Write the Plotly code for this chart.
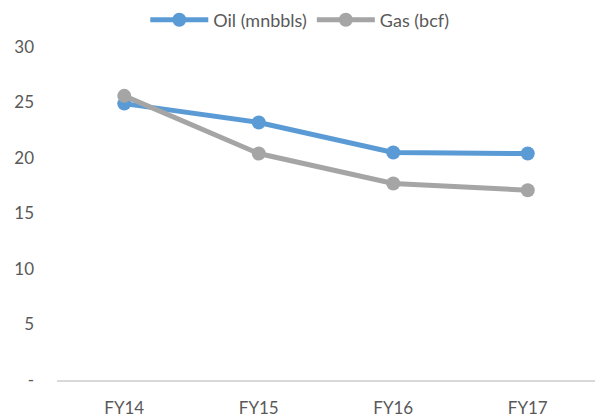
import plotly.graph_objects as go

years = ['FY14', 'FY15', 'FY16', 'FY17']
oil = [24.9, 23.2, 20.5, 20.4]
gas = [25.6, 20.4, 17.7, 17.1]
y_ticks = [0, 5, 10, 15, 20, 25, 30]
y_labels = ['-', '5', '10', '15', '20', '25', '30']

OIL_COLOR = '#5B9BD5'
GAS_COLOR = '#A5A5A5'
TEXT = '#595959'

fig = go.Figure()

fig.add_trace(go.Scatter(
    x=years, y=oil, name='Oil (mnbbls)',
    mode='lines+markers',
    line=dict(color=OIL_COLOR, width=5),
    marker=dict(size=14, color=OIL_COLOR)
))
fig.add_trace(go.Scatter(
    x=years, y=gas, name='Gas (bcf)',
    mode='lines+markers',
    line=dict(color=GAS_COLOR, width=5),
    marker=dict(size=14, color=GAS_COLOR)
))

fig.update_layout(
    width=596,
    height=417,
    plot_bgcolor='white',
    paper_bgcolor='white',
    margin=dict(l=57, r=1, t=47, b=37, autoexpand=False),
    font=dict(family='Lato, Open Sans, sans-serif', size=17, color=TEXT),
    showlegend=True,
    legend=dict(
        orientation='h',
        x=0.503, xanchor='center', xref='container',
        y=0.952, yanchor='middle', yref='container',
        font=dict(size=18, color=TEXT),
        itemwidth=58,
    ),
    xaxis=dict(
        range=[-0.5, 3.5],
        showgrid=False,
        showline=True,
        linecolor='#D9D9D9',
        linewidth=1.5,
        ticks='',
        ticklabelstandoff=12,
        automargin=False,
    ),
    yaxis=dict(
        range=[0, 30],
        tickvals=y_ticks,
        ticktext=y_labels,
        showgrid=False,
        showline=False,
        zeroline=False,
        ticks='',
        ticklabelstandoff=22,
        automargin=False,
    ),
)

# drop the default page margin so the chart sits flush in the window
fig.write_html(
    "out.html",
    config={'displayModeBar': False},
    post_script="document.body.style.margin='0';",
)
